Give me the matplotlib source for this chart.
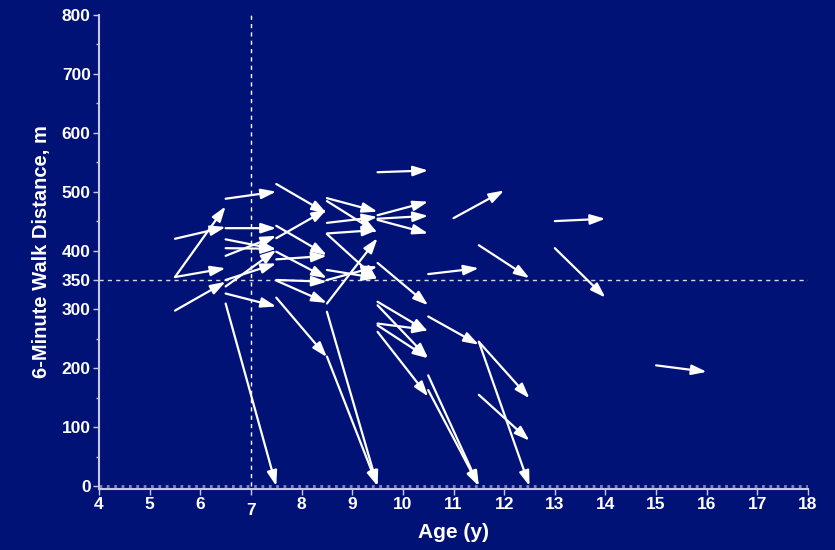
import matplotlib
matplotlib.use("Agg")
import matplotlib.pyplot as plt
from matplotlib.ticker import MultipleLocator

# Change in 6-minute walk distance over one year of follow-up, per patient
age_start = [5.5, 5.5, 5.5, 5.5,
             6.5, 6.5, 6.5, 6.5, 6.5, 6.5, 6.5, 6.5, 6.5,
             7.5, 7.5, 7.5, 7.5, 7.5, 7.5, 7.5, 7.5,
             8.5, 8.5, 8.5, 8.5, 8.5, 8.5, 8.5, 8.5, 8.5, 8.5,
             9.5, 9.5, 9.5, 9.5, 9.5, 9.5, 9.5, 9.5, 9.5, 9.5,
             10.5, 10.5, 10.5, 10.5,
             11, 11.5, 11.5, 11.5, 11.5,
             13, 13, 15]
walk_start = [420, 355, 355, 298,
              488, 438, 419, 404, 391, 339, 350, 327, 310,
              513, 442, 421, 385, 398, 350, 349, 320,
              489, 484, 447, 429, 428, 367, 350, 310, 296, 220,
              533, 460, 454, 452, 379, 313, 307, 276, 273, 262,
              360, 288, 188, 163,
              455, 409, 245, 245, 155,
              450, 404, 205]
age_end = [6.5, 6.5, 6.5, 6.5,
           7.5, 7.5, 7.5, 7.5, 7.5, 7.5, 7.5, 7.5, 7.5,
           8.5, 8.5, 8.5, 8.5, 8.5, 8.5, 8.5, 8.5,
           9.5, 9.5, 9.5, 9.5, 9.5, 9.5, 9.5, 9.5, 9.5, 9.5,
           10.5, 10.5, 10.5, 10.5, 10.5, 10.5, 10.5, 10.5, 10.5, 10.5,
           11.5, 11.5, 11.5, 11.5,
           12, 12.5, 12.5, 12.5, 12.5,
           14, 14, 16]
walk_end = [440, 475, 370, 347,
            500, 438, 402, 403, 425, 401, 378, 305, 0,
            463, 392, 470, 391, 353, 347, 311, 219,
            466, 430, 457, 435, 350, 353, 373, 421, 0, 0,
            536, 483, 459, 429, 307, 262, 217, 265, 217, 152,
            370, 240, 0, 0,
            502, 353, 149, 0, 77,
            454, 320, 194]

age_ticks = list(range(4, 19))
walk_ticks = [0, 100, 200, 300, 350, 400, 500, 600, 700, 800]

bg = "#011276"
axis_col = "#c8c8e0"

plt.rcParams['font.family'] = ['Liberation Sans', 'DejaVu Sans']

fig = plt.figure(figsize=(8.35, 5.5), dpi=100, facecolor=bg)
ax = fig.add_axes([0.1186, 0.1109, 0.8491, 0.8618], facecolor=bg)

for x0, y0, x1, y1 in zip(age_start, walk_start, age_end, walk_end):
    ax.annotate("", xy=(x1, y1), xytext=(x0, y0),
                arrowprops=dict(arrowstyle="-|>,head_length=0.75,head_width=0.25",
                                color="white", lw=1.6, mutation_scale=12,
                                shrinkA=0, shrinkB=0))

# reference lines at age 7 and 350 m
ax.plot([7, 7], [0, 800], color="white", lw=1, dashes=(3, 3))
ax.axhline(350, color="#d8d8e8", lw=1, dashes=(3, 3))
ax.axhline(0, color="#8088c0", lw=2, ls=":")

ax.set_xlim(4, 18)
ax.set_ylim(-5, 800)
ax.set_xticks(age_ticks)
ax.set_yticks(walk_ticks)
ax.yaxis.set_minor_locator(MultipleLocator(50))

for side in ("top", "right"):
    ax.spines[side].set_visible(False)
for side in ("left", "bottom"):
    ax.spines[side].set_color(axis_col)
    ax.spines[side].set_linewidth(1.5)

ax.tick_params(axis="both", which="major", colors=axis_col, length=4, width=1,
               labelcolor="white", labelsize=12.5, pad=2)
ax.tick_params(axis="y", which="minor", colors=axis_col, length=2, width=1)
for lab in ax.get_xticklabels() + ax.get_yticklabels():
    lab.set_fontweight("bold")
ax.xaxis.get_major_ticks()[3].set_pad(6)

ax.set_xlabel("Age (y)", color="white", fontsize=15, fontweight="bold", labelpad=4)
ax.set_ylabel("6-Minute Walk Distance, m", color="white", fontsize=14.5,
              fontweight="bold", labelpad=8)

fig.savefig("out.png", dpi=100, facecolor=bg)
